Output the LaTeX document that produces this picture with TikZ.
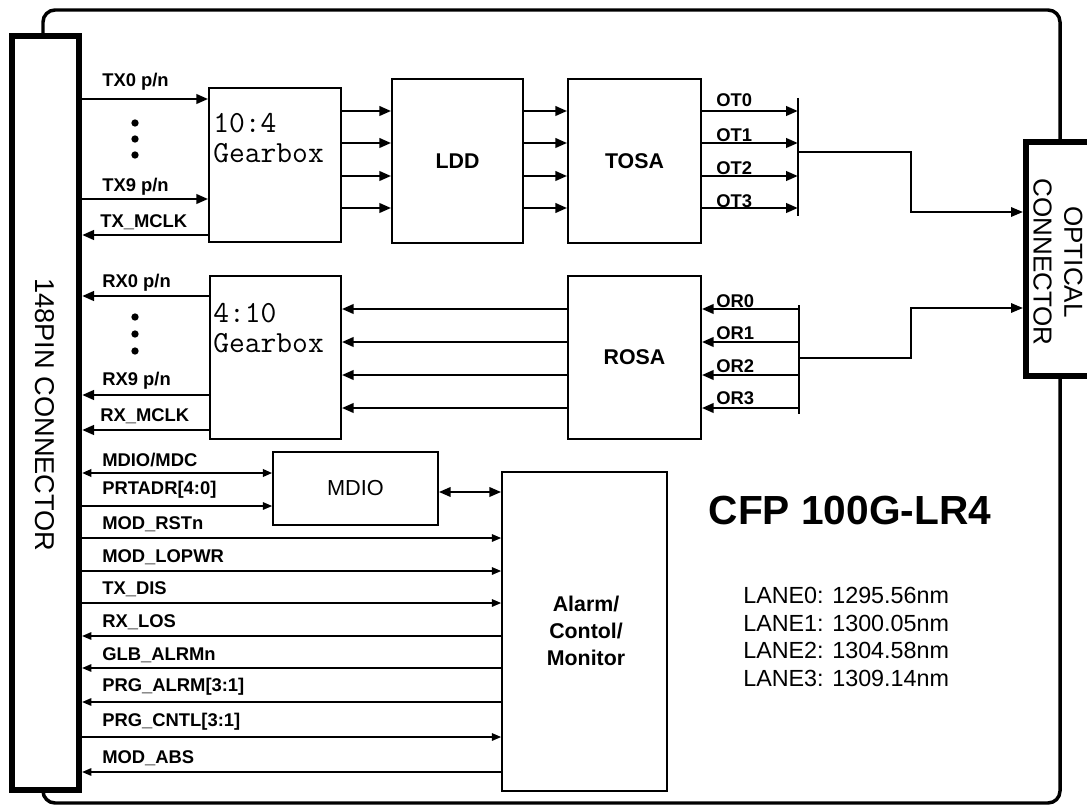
\documentclass[tikz,border=0pt]{standalone}
\usepackage{fontspec}
\setmainfont{Liberation Sans}
\usetikzlibrary{fit,arrows.meta}
\begin{document}
\begin{tikzpicture}[x=0.75pt,y=-0.75pt,
  box/.style={draw, line width=1.1pt, inner sep=0pt, fill=white},
  pinbox/.style={draw, line width=4.5pt, inner sep=0pt, fill=white},
  bigtip/.tip={Triangle[length=9pt,width=7pt]},
  smalltip/.tip={Triangle[length=7pt,width=5.5pt]},
  sig/.style={line width=2.2pt, -bigtip},
  ctl/.style={line width=1.4pt, -smalltip},
  ctlback/.style={line width=1.4pt, smalltip-},
  fiber/.style={line width=1.6pt},
  lbl/.style={font=\bfseries\fontsize{13.8}{16}\selectfont, inner sep=0pt, anchor=west},
  blk/.style={font=\bfseries\fontsize{16}{19}\selectfont},
  gear/.style={font=\ttfamily\fontsize{23}{27}\selectfont, inner sep=0pt, anchor=west},
  dot/.style={circle, fill, inner sep=0pt, minimum size=5.5pt}
]
\useasboundingbox (0,0) rectangle (1087,809);
\clip (0,0) rectangle (1087,809);
% module outline
\draw[line width=2.6pt, rounded corners=9pt] (43,10) rectangle (1060,803);

% connectors
\node[pinbox, fit={(12,36)(79,790)}] (pin) {};
\node[rotate=-90, font=\fontsize{20.4}{24}\selectfont] (pinlbl) at (45,415) {148PIN CONNECTOR};
\node[pinbox, fit={(1026,142)(1110,376)}] (optc) {};
\node[rotate=-90, align=center, font=\fontsize{19.5}{23}\selectfont] (optlbl) at (1058,262) {OPTICAL\\CONNECTOR};

% blocks
\node[box, fit={(209,88)(341,242)}] (gbt) {};
\node[gear] (gbt1) at (213,123) {10:4};
\node[gear] (gbt2) at (213,153) {Gearbox};
\node[box, fit={(392,79)(523,243)}, label={[blk]center:LDD}] (ldd) {};
\node[box, fit={(568,79)(701,243)}, label={[blk]center:TOSA}] (tosa) {};
\node[box, fit={(210,276)(341,439)}] (gbr) {};
\node[gear] (gbr1) at (213,313) {4:10};
\node[gear] (gbr2) at (213,343) {Gearbox};
\node[box, fit={(568,276)(701,439)}, label={[blk]center:ROSA}] (rosa) {};
\node[box, fit={(273,452)(438,525)}, label={[font=\fontsize{16.3}{19}\selectfont]center:MDIO}] (mdio) {};
\node[box, fit={(502,472)(667,791)}] (alarm) {};
\node[align=center, font=\bfseries\fontsize{16}{20}\selectfont] (alarmlbl) at (586,631) {Alarm/\\Contol/\\Monitor};

% TX side
\draw[sig] (pin.east |- 0,99) -- (gbt.west |- 0,99);
\draw[sig] (pin.east |- 0,199) -- (gbt.west |- 0,199);
\draw[sig] (gbt.west |- 0,235) -- (pin.east |- 0,235);
\node[lbl] (ltx0) at (102,82) {TX0 p/n};
\node[lbl] (ltx9) at (102,187) {TX9 p/n};
\node[lbl] (ltxm) at (100,222) {TX\_MCLK};
\node[dot] (d1) at (135,123) {};
\node[dot] (d2) at (135,139) {};
\node[dot] (d3) at (135,155) {};

\coordinate (forkTa) at (798,98);
\coordinate (forkTb) at (798,216);
\coordinate (forkT) at (798,152);
\draw[fiber] (forkTa) -- (forkTb);
\foreach \y in {111,143,176,208} {
  \draw[sig] (gbt.east |- 0,\y) -- (ldd.west |- 0,\y);
  \draw[sig] (ldd.east |- 0,\y) -- (tosa.west |- 0,\y);
  \draw[sig] (tosa.east |- 0,\y) -- (forkT |- 0,\y);
}
\node[lbl] (lot0) at (716,100) {OT0};
\node[lbl] (lot1) at (716,135) {OT1};
\node[lbl] (lot2) at (716,168) {OT2};
\node[lbl] (lot3) at (716,201) {OT3};
\coordinate (bendT) at (911,152);
\draw[fiber, -bigtip] (forkT) -- (bendT) |- (optc.west |- 0,212);

% RX side
\draw[sig] (gbr.west |- 0,296) -- (pin.east |- 0,296);
\draw[sig] (gbr.west |- 0,395) -- (pin.east |- 0,395);
\draw[sig] (gbr.west |- 0,430) -- (pin.east |- 0,430);
\node[lbl] (lrx0) at (102,283) {RX0 p/n};
\node[lbl] (lrx9) at (102,381) {RX9 p/n};
\node[lbl] (lrxm) at (100,416) {RX\_MCLK};
\node[dot] (d4) at (135,317) {};
\node[dot] (d5) at (135,334) {};
\node[dot] (d6) at (135,351) {};

\coordinate (forkRa) at (799,305);
\coordinate (forkRb) at (799,414);
\coordinate (forkR) at (799,358);
\draw[fiber] (forkRa) -- (forkRb);
\foreach \y in {309,342,375,408} {
  \draw[sig] (rosa.west |- 0,\y) -- (gbr.east |- 0,\y);
  \draw[sig] (forkR |- 0,\y) -- (rosa.east |- 0,\y);
}
\node[lbl] (lor0) at (716,301) {OR0};
\node[lbl] (lor1) at (716,333) {OR1};
\node[lbl] (lor2) at (716,366) {OR2};
\node[lbl] (lor3) at (716,398) {OR3};
\coordinate (bendR) at (911,358);
\draw[fiber, -bigtip] (forkR) -- (bendR) |- (optc.west |- 0,308);

% management / control
\draw[line width=2pt, smalltip-smalltip] (pin.east |- 0,473) -- (mdio.west |- 0,473);
\draw[ctl] (pin.east |- 0,506) -- (mdio.west |- 0,506);
\draw[line width=2pt, bigtip-bigtip] (mdio.east |- 0,492) -- (alarm.west |- 0,492);
\draw[ctl] (pin.east |- 0,538) -- (alarm.west |- 0,538);
\draw[ctl] (pin.east |- 0,571) -- (alarm.west |- 0,571);
\draw[ctl] (pin.east |- 0,603) -- (alarm.west |- 0,603);
\draw[ctlback] (pin.east |- 0,636) -- (alarm.west |- 0,636);
\draw[ctlback] (pin.east |- 0,668) -- (alarm.west |- 0,668);
\draw[ctlback] (pin.east |- 0,702) -- (alarm.west |- 0,702);
\draw[ctl] (pin.east |- 0,737) -- (alarm.west |- 0,737);
\draw[ctlback] (pin.east |- 0,772) -- (alarm.west |- 0,772);
\node[lbl] (l1) at (102,460) {MDIO/MDC};
\node[lbl] (l2) at (102,490) {PRTADR[4:0]};
\node[lbl] (l3) at (102,524) {MOD\_RSTn};
\node[lbl] (l4) at (102,557) {MOD\_LOPWR};
\node[lbl] (l5) at (102,589) {TX\_DIS};
\node[lbl] (l6) at (102,622) {RX\_LOS};
\node[lbl] (l7) at (102,655) {GLB\_ALRMn};
\node[lbl] (l8) at (102,687) {PRG\_ALRM[3:1]};
\node[lbl] (l9) at (102,722) {PRG\_CNTL[3:1]};
\node[lbl] (l10) at (102,758) {MOD\_ABS};

% titles
\node[font=\bfseries\fontsize{30.5}{36}\selectfont] (title) at (850,510) {CFP 100G-LR4};
\node[align=left, anchor=west, inner sep=0pt, font=\fontsize{17.5}{20.8}\selectfont] (lanes) at (743,637)
  {LANE0: 1295.56nm\\LANE1: 1300.05nm\\LANE2: 1304.58nm\\LANE3: 1309.14nm};
\end{tikzpicture}
\end{document}
